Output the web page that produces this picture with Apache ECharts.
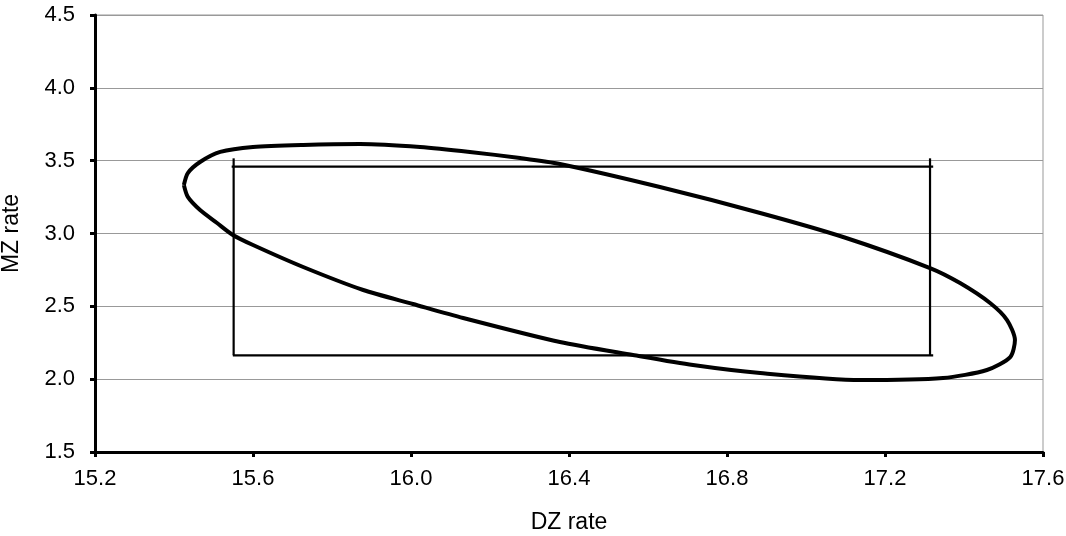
<!DOCTYPE html>
<html>
<head>
<meta charset="utf-8">
<script src="https://cdn.jsdelivr.net/npm/echarts@6/dist/echarts.min.js"></script>
<style>
html,body{margin:0;padding:0;background:#fff;}
#chart{width:1066px;height:536px;}
</style>
</head>
<body>
<div id="chart"></div>
<script>
// Ellipse outline (DZ rate, MZ rate), clockwise from leftmost point
const ellipseX = [15.425, 15.435, 15.466, 15.517, 15.600, 15.727, 15.871, 16.023, 16.149, 16.276, 16.377, 16.630, 16.884, 17.094, 17.314, 17.390, 17.466, 17.509, 17.529, 17.517, 17.458, 17.347, 17.137, 16.884, 16.714, 16.562, 16.377, 16.132, 16.005, 15.879, 15.727, 15.600, 15.549, 15.509, 15.466, 15.435, 15.425];
const ellipseY = [3.333, 3.415, 3.491, 3.560, 3.594, 3.608, 3.614, 3.594, 3.560, 3.518, 3.477, 3.319, 3.141, 2.976, 2.763, 2.660, 2.523, 2.406, 2.269, 2.152, 2.063, 2.008, 1.994, 2.042, 2.097, 2.166, 2.255, 2.420, 2.516, 2.612, 2.770, 2.921, 2.990, 3.072, 3.161, 3.251, 3.333];

// Rectangle (interval box) edges
const boxTopX = [15.546, 17.322];
const boxTopY = [3.459, 3.459];
const boxBottomX = [15.549, 17.322];
const boxBottomY = [2.164, 2.164];
const boxLeftX = [15.551, 15.551];
const boxLeftY = [2.164, 3.516];
const boxRightX = [17.314, 17.314];
const boxRightY = [2.164, 3.516];

const xTicks = [15.2, 15.6, 16.0, 16.4, 16.8, 17.2, 17.6];
const yTicks = [1.5, 2.0, 2.5, 3.0, 3.5, 4.0, 4.5];

function zip(xs, ys) { return xs.map((x, i) => [x, ys[i]]); }

const chart = echarts.init(document.getElementById('chart'), null, {renderer: 'canvas'});
const font = '"Liberation Sans", Arial, sans-serif';

function seg(xs, ys, w) {
  return {
    type: 'line', data: zip(xs, ys), showSymbol: false, symbol: 'none',
    lineStyle: {color: '#000', width: w}, silent: true, animation: false
  };
}

chart.setOption({
  backgroundColor: '#fff',
  animation: false,
  grid: {left: 95, right: 23, top: 15, bottom: 84, show: true, borderColor: '#999', borderWidth: 1,
    containLabel: false, outerBoundsMode: 'none'},
  xAxis: {
    type: 'value', min: xTicks[0], max: xTicks[xTicks.length - 1], interval: 0.4,
    name: 'DZ rate', nameLocation: 'middle', nameGap: 59,
    nameTextStyle: {fontFamily: font, fontSize: 23, color: '#000'},
    axisLine: {show: true, onZero: false, lineStyle: {color: '#000', width: 3}},
    axisTick: {show: true, inside: false, length: 5, lineStyle: {color: '#000', width: 3}},
    axisLabel: {fontFamily: font, fontSize: 22, color: '#000', margin: 16,
      formatter: v => v.toFixed(1)},
    splitLine: {show: false}
  },
  yAxis: {
    type: 'value', min: yTicks[0], max: yTicks[yTicks.length - 1], interval: 0.5,
    name: 'MZ rate', nameLocation: 'middle', nameGap: 72, nameRotate: 90,
    nameTextStyle: {fontFamily: font, fontSize: 23, color: '#000'},
    axisLine: {show: true, onZero: false, lineStyle: {color: '#000', width: 3}},
    axisTick: {show: true, inside: false, length: 5, lineStyle: {color: '#000', width: 3}},
    axisLabel: {fontFamily: font, fontSize: 22, color: '#000', margin: 20,
      formatter: v => v.toFixed(1)},
    splitLine: {show: true, lineStyle: {color: '#999', width: 1}}
  },
  series: [
    seg(boxTopX, boxTopY, 2.2),
    seg(boxBottomX, boxBottomY, 2.2),
    seg(boxLeftX, boxLeftY, 2.2),
    seg(boxRightX, boxRightY, 2.2),
    Object.assign(seg(ellipseX, ellipseY, 4), {smooth: 0.25})
  ]
});
</script>
</body>
</html>
